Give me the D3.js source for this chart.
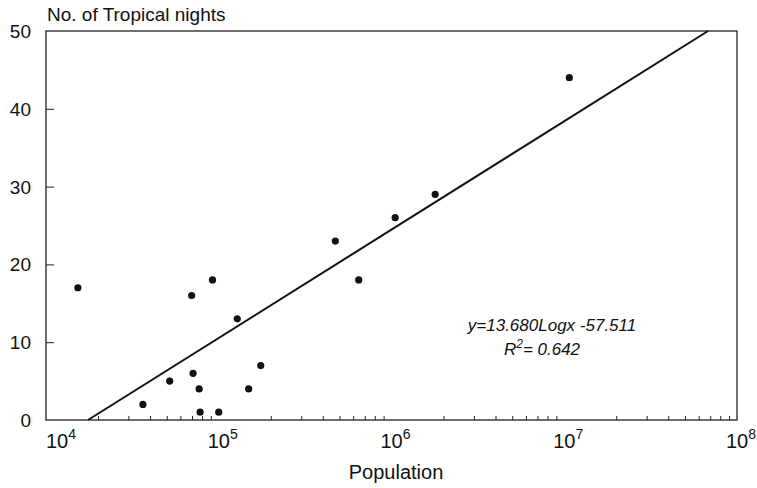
<!DOCTYPE html>
<html lang="en">
  <head>
    <meta charset="utf-8">
    <title>Tropical nights vs population</title>
    <script src="https://d3js.org/d3.v7.min.js"></script>
    <style>
      body { margin: 0; background: #fff; }
      text { font-family: Arial, "Liberation Sans", sans-serif; fill: #111; }
    </style>
  </head>
  <body>
    <script type="text/javascript">
    // data
    var population = [1.53e4, 3.64e4, 5.2e4, 6.97e4, 7.1e4, 7.7e4, 7.8e4, 9.2e4, 1.0e5,
                      1.28e5, 1.49e5, 1.75e5, 4.73e5, 6.46e5, 1.05e6, 1.79e6, 1.07e7];
    var nights = [17, 2, 5, 16, 6, 4, 1, 18, 1, 13, 4, 7, 23, 18, 26, 29, 44];
    var fitLine = [[1.75e4, 0], [6.8e7, 50]];
    var xTicks = [1e4, 1e5, 1e6, 1e7, 1e8];
    var yTicks = [0, 10, 20, 30, 40, 50];
    var eqText = "y=13.680Logx -57.511";
    var r2Text = "0.642";

    var w = 757, h = 488;
    var plotLeft = 46, plotRight = 737, plotTop = 31, plotBottom = 420;

    var svg = d3.select("body").append("svg")
                .attr("width", w)
                .attr("height", h);

    var xScale = d3.scaleLog().domain([1e4, 1e8]).range([plotLeft, plotRight]);
    var yScale = d3.scaleLinear().domain([0, 50]).range([plotBottom, plotTop]);

    // frame
    svg.append("rect")
       .attr("x", plotLeft).attr("y", plotTop)
       .attr("width", plotRight - plotLeft).attr("height", plotBottom - plotTop)
       .attr("fill", "none").attr("stroke", "#222").attr("stroke-width", 1.3);

    // bottom axis, minor ticks point inward
    var minor = [];
    for (var e = 4; e < 8; e++) {
      for (var m = 2; m <= 9; m++) minor.push(m * Math.pow(10, e));
    }
    var xAxis = d3.axisBottom(xScale).tickValues(minor).tickSize(-4).tickFormat("");
    svg.append("g")
       .attr("transform", "translate(0," + plotBottom + ")")
       .call(xAxis)
       .call(function(g) { g.select(".domain").remove(); })
       .selectAll("line").attr("stroke", "#222");

    // decade labels 10^n ("10" centred on the tick, first one nudged right)
    var xl = svg.append("g");
    xTicks.forEach(function(t, i) {
      var txt = xl.append("text")
                  .attr("x", xScale(t) + (i == 0 ? 11 : 0) + 4)
                  .attr("y", 448)
                  .attr("text-anchor", "middle")
                  .style("font-size", "20px");
      txt.append("tspan").text("10");
      txt.append("tspan").attr("dy", -9).style("font-size", "14px")
         .text(Math.round(Math.log10(t)));
    });

    // left axis
    var yAxis = d3.axisLeft(yScale).tickValues(yTicks.slice(1, 5)).tickSize(-8).tickFormat("");
    svg.append("g")
       .attr("transform", "translate(" + plotLeft + ",0)")
       .call(yAxis)
       .call(function(g) { g.select(".domain").remove(); })
       .selectAll("line").attr("stroke", "#222");

    svg.append("g").selectAll("text")
       .data(yTicks)
       .enter()
       .append("text")
       .attr("x", 31)
       .attr("y", function(d) { return yScale(d) + 7; })
       .attr("text-anchor", "end")
       .style("font-size", "19px")
       .text(function(d) { return d; });

    // regression line
    var line = d3.line()
                 .x(function(d) { return xScale(d[0]); })
                 .y(function(d) { return yScale(d[1]); });
    svg.append("path")
       .datum(fitLine)
       .attr("d", line)
       .attr("fill", "none")
       .attr("stroke", "#111")
       .attr("stroke-width", 2);

    // points
    svg.selectAll("circle")
       .data(population)
       .enter()
       .append("circle")
       .attr("cx", function(d) { return xScale(d); })
       .attr("cy", function(d, i) { return yScale(nights[i]); })
       .attr("r", 3.6)
       .attr("fill", "#111");

    // titles
    svg.append("text")
       .attr("x", 47).attr("y", 21)
       .style("font-size", "19px")
       .text("No. of Tropical nights");
    svg.append("text")
       .attr("x", 396).attr("y", 479)
       .attr("text-anchor", "middle")
       .style("font-size", "20px")
       .text("Population");

    // equation
    svg.append("text")
       .attr("x", 552).attr("y", 331)
       .attr("text-anchor", "middle")
       .style("font-size", "17px").style("font-style", "italic")
       .text(eqText);
    var r2 = svg.append("text")
       .attr("x", 542).attr("y", 355)
       .attr("text-anchor", "middle")
       .style("font-size", "17px").style("font-style", "italic");
    r2.append("tspan").text("R");
    r2.append("tspan").attr("dy", -7).style("font-size", "12px").text("2");
    r2.append("tspan").attr("dy", 7).text("= " + r2Text);
    </script>
  </body>
</html>
